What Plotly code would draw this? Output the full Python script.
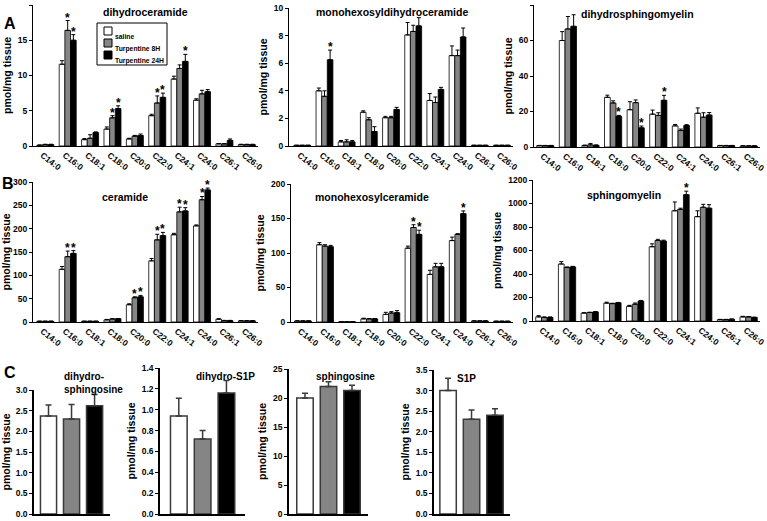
import plotly.graph_objects as go

W, H = 767, 521

CHAINS = ["C14:0", "C16:0", "C18:1", "C18:0", "C20:0",
          "C22:0", "C24:1", "C24:0", "C26:1", "C26:0"]
GROUPS = ["saline", "Turpentine 8H", "Turpentine 24H"]
COLORS = ["#ffffff", "#858585", "#000000"]

# A - dihydroceramide
dhcer_saline = [0.1, 11.6, 0.9, 2.4, 1.0, 4.3, 9.5, 6.5, 0.3, 0.2]
dhcer_8h = [0.2, 16.4, 1.1, 4.0, 1.4, 6.1, 11.0, 7.4, 0.3, 0.2]
dhcer_24h = [0.2, 15.0, 1.9, 5.3, 1.5, 6.9, 12.0, 7.7, 0.8, 0.2]
dhcer_saline_err = [0.05, 0.5, 0.15, 0.3, 0.1, 0.2, 0.4, 0.2, 0.05, 0.05]
dhcer_8h_err = [0.05, 1.4, 0.5, 0.3, 0.1, 1.0, 0.5, 0.5, 0.05, 0.05]
dhcer_24h_err = [0.05, 0.8, 0.1, 0.4, 0.2, 0.6, 1.0, 0.3, 0.2, 0.05]
dhcer_stars = [(1, 1), (1, 2), (3, 1), (3, 2), (5, 1), (5, 2), (6, 2)]

# A - monohexosyldihydroceramide
hexdhcer_saline = [0.05, 4.0, 0.3, 2.45, 2.05, 8.05, 3.3, 6.55, 0.05, 0.05]
hexdhcer_8h = [0.05, 3.6, 0.3, 1.9, 2.05, 8.3, 3.15, 6.55, 0.05, 0.05]
hexdhcer_24h = [0.05, 6.25, 0.3, 1.05, 2.65, 8.7, 4.1, 7.9, 0.05, 0.05]
hexdhcer_saline_err = [0, 0.2, 0.1, 0.1, 0.1, 0.9, 0.5, 0.7, 0, 0]
hexdhcer_8h_err = [0, 0.4, 0.15, 0.15, 0.1, 0.45, 0.4, 0.4, 0, 0]
hexdhcer_24h_err = [0, 0.7, 0.1, 0.35, 0.15, 0.6, 0.15, 0.65, 0, 0]
hexdhcer_stars = [(1, 2)]

# A - dihydrosphingomyelin
dhsm_saline = [0.8, 60, 0.8, 28, 21, 18.5, 11.9, 19, 0.8, 0.6]
dhsm_8h = [0.8, 66.5, 1.2, 24.8, 25, 17.8, 9.3, 16.8, 0.8, 0.6]
dhsm_24h = [0.8, 68, 0.9, 17.3, 10.8, 26.3, 12.1, 18, 0.8, 0.6]
dhsm_saline_err = [0.1, 5, 0.3, 1.2, 4.5, 2.3, 0.8, 3, 0.1, 0.1]
dhsm_8h_err = [0.1, 7, 0.8, 1.2, 1.5, 1.5, 0.8, 2.5, 0.1, 0.1]
dhsm_24h_err = [0.1, 6.5, 0.3, 0.5, 1.0, 2.8, 0.5, 1.4, 0.1, 0.1]
dhsm_stars = [(3, 2), (4, 2), (5, 2)]

# B - ceramide
cer_saline = [1.5, 113, 1.5, 4.5, 37, 131, 187, 206, 6, 2.5]
cer_8h = [1.5, 140, 1.5, 6.5, 52, 176, 236, 262, 3, 2.5]
cer_24h = [1.5, 147, 1.5, 7, 54, 185, 238, 283, 3, 2.5]
cer_saline_err = [0.3, 6, 0.3, 1, 2, 5, 3, 2, 1, 0.3]
cer_8h_err = [0.3, 12, 0.3, 0.5, 2, 12, 10, 7, 0.5, 0.3]
cer_24h_err = [0.3, 6, 0.3, 0.5, 3, 7, 7, 4, 0.5, 0.3]
cer_stars = [(1, 1), (1, 2), (4, 1), (4, 2), (5, 1), (5, 2),
             (6, 1), (6, 2), (7, 1), (7, 2)]

# B - monohexosylceramide
hexcer_saline = [1.5, 112, 0.3, 4.5, 11, 107, 69, 118, 1.5, 1]
hexcer_8h = [1.5, 110, 0.3, 4.5, 13, 137, 80, 127, 1.5, 1]
hexcer_24h = [1.5, 109, 0.3, 4.5, 13.5, 127, 80, 157, 1.5, 1]
hexcer_saline_err = [0.2, 3, 0, 1, 3, 3, 6, 5, 0.2, 0.2]
hexcer_8h_err = [0.2, 2, 0, 0.5, 2, 4, 5, 1, 0.2, 0.2]
hexcer_24h_err = [0.2, 2, 0, 0.5, 3, 6, 5, 4, 0.2, 0.2]
hexcer_stars = [(5, 1), (5, 2), (7, 2)]

# B - sphingomyelin
sm_saline = [35, 485, 68, 152, 125, 632, 938, 888, 12, 35]
sm_8h = [30, 455, 72, 148, 143, 685, 950, 968, 12, 35]
sm_24h = [30, 460, 77, 155, 170, 680, 1075, 960, 15, 30]
sm_saline_err = [10, 20, 2, 8, 8, 25, 75, 50, 2, 5]
sm_8h_err = [5, 5, 3, 3, 10, 10, 10, 25, 2, 3]
sm_24h_err = [5, 5, 3, 3, 5, 8, 30, 30, 2, 3]
sm_stars = [(6, 2)]

# C - sphingoid bases (saline, 8H, 24H)
dhsph_mean = [2.37, 2.30, 2.62]
dhsph_err = [0.27, 0.35, 0.27]
dhs1p_mean = [0.94, 0.72, 1.16]
dhs1p_err = [0.17, 0.08, 0.12]
sph_mean = [20.0, 22.0, 21.3]
sph_err = [0.8, 0.8, 0.9]
s1p_mean = [3.0, 2.3, 2.4]
s1p_err = [0.3, 0.23, 0.16]

FONT = "Arial, 'Liberation Sans', sans-serif"
BARGAP = 0.24
BW = (1 - BARGAP) / 3


def xdom(a, b):
    return [a / W, b / W]


def ydom(top, bottom):
    return [1 - bottom / H, 1 - top / H]


def bold(size, color="black"):
    return dict(family=FONT, size=size, color=color, weight="bold")


fig = go.Figure()
annotations = []
shapes = []

chain_panels = [
    ("dihydroceramide", [dhcer_saline, dhcer_8h, dhcer_24h],
     [dhcer_saline_err, dhcer_8h_err, dhcer_24h_err], dhcer_stars,
     [0, 20], 5, (33, 258), (5, 146), [-0.55, 9.5], (145, 12)),
    ("monohexosyldihydroceramide", [hexdhcer_saline, hexdhcer_8h, hexdhcer_24h],
     [hexdhcer_saline_err, hexdhcer_8h_err, hexdhcer_24h_err], hexdhcer_stars,
     [0, 10], 2, (289, 513), (8, 146), [-0.6, 9.5], (392, 12)),
    ("dihydrosphingomyelin", [dhsm_saline, dhsm_8h, dhsm_24h],
     [dhsm_saline_err, dhsm_8h_err, dhsm_24h_err], dhsm_stars,
     [0, 80], 20, (534, 760), (5, 147), [-0.5, 9.5], (637, 14)),
    ("ceramide", [cer_saline, cer_8h, cer_24h],
     [cer_saline_err, cer_8h_err, cer_24h_err], cer_stars,
     [0, 300], 50, (33, 258), (182, 322), [-0.55, 9.5], (125, 197)),
    ("monohexosylceramide", [hexcer_saline, hexcer_8h, hexcer_24h],
     [hexcer_saline_err, hexcer_8h_err, hexcer_24h_err], hexcer_stars,
     [0, 200], 50, (291, 513), (184, 322), [-0.54, 9.5], (372, 197)),
    ("sphingomyelin", [sm_saline, sm_8h, sm_24h],
     [sm_saline_err, sm_8h_err, sm_24h_err], sm_stars,
     [0, 1200], 200, (533, 760), (180, 321), [-0.5, 9.5], (624, 195)),
]

layout_axes = {}
k = 0
for title, means, errs, stars, yr, dt, xd, yd, xr, tpos in chain_panels:
    k += 1
    xa = "x" if k == 1 else f"x{k}"
    ya = "y" if k == 1 else f"y{k}"
    for g in range(3):
        fig.add_trace(go.Bar(
            x=CHAINS, y=means[g], name=GROUPS[g], showlegend=False,
            marker=dict(color=COLORS[g], line=dict(color="black", width=0.8)),
            error_y=dict(type="data", symmetric=False, array=errs[g],
                         arrayminus=[0] * len(errs[g]), color="black",
                         thickness=1, width=2),
            xaxis=xa, yaxis=ya, hoverinfo="skip",
        ))
    for ci, g in stars:
        annotations.append(dict(
            x=ci + (g - 1) * BW, y=means[g][ci] + errs[g][ci],
            xref=xa, yref=ya, text="*", showarrow=False,
            yanchor="bottom", yshift=-6, font=bold(12)))
    annotations.append(dict(
        x=tpos[0] / W, y=1 - tpos[1] / H, xref="paper", yref="paper",
        text=title, showarrow=False, xanchor="center", yanchor="middle",
        font=bold(10.5)))
    sfx = "" if k == 1 else str(k)
    layout_axes["xaxis" + sfx] = dict(
        domain=xdom(*xd), anchor=ya, type="category", range=xr,
        automargin=False, ticklabelshift=-3,
        showline=True, linecolor="black", linewidth=1.2, ticks="",
        tickangle=38, tickfont=bold(8.5), showgrid=False, zeroline=False)
    layout_axes["yaxis" + sfx] = dict(
        domain=ydom(*yd), anchor=xa, range=yr, dtick=dt, automargin=False,
        showline=True, linecolor="black", linewidth=1.2, ticks="outside",
        ticklen=3, tickcolor="black", tickfont=bold(8.5),
        showgrid=False, zeroline=False,
        title=dict(text="pmol/mg tissue", font=bold(10.5), standoff=4))

base_panels = [
    ("dihydro-<br>sphingosine", dhsph_mean, dhsph_err, [0, 3.0], 0.5, ".1f",
     (34, 110), (390, 514), [-0.63, 2.67], (62, 383, "left")),
    ("dihydro-S1P", dhs1p_mean, dhs1p_err, [0, 1.4], 0.2, ".1f",
     (160, 245), (368, 514), [-0.79, 2.78], (225, 376, "center")),
    ("sphingosine", sph_mean, sph_err, [0, 25], 5, "",
     (289, 368), (369, 514), [-0.68, 2.68], (345, 376, "center")),
    ("S1P", s1p_mean, s1p_err, [0, 3.5], 0.5, ".1f",
     (434, 510), (370, 514), [-0.6, 2.64], (466, 378, "center")),
]

for title, means, errs, yr, dt, fmt, xd, yd, xr, tpos in base_panels:
    k += 1
    xa, ya = f"x{k}", f"y{k}"
    fig.add_trace(go.Bar(
        x=[0, 1, 2], y=means, width=0.7, showlegend=False,
        marker=dict(color=COLORS, line=dict(color="#3a3a3a", width=1.5)),
        error_y=dict(type="data", symmetric=False, array=errs,
                     arrayminus=[0, 0, 0], color="#3a3a3a",
                     thickness=1.5, width=3),
        xaxis=xa, yaxis=ya, hoverinfo="skip",
    ))
    annotations.append(dict(
        x=tpos[0] / W, y=1 - tpos[1] / H, xref="paper", yref="paper",
        text=title, showarrow=False, xanchor=tpos[2], yanchor="middle",
        align="left", font=bold(10)))
    layout_axes[f"xaxis{k}"] = dict(
        domain=xdom(*xd), anchor=ya, range=xr, showline=True,
        automargin=False,
        linecolor="black", linewidth=1.5, ticks="", showticklabels=False,
        showgrid=False, zeroline=False)
    layout_axes[f"yaxis{k}"] = dict(
        domain=ydom(*yd), anchor=xa, range=yr, dtick=dt, tickformat=fmt,
        automargin=False,
        showline=True, linecolor="black", linewidth=1.5, ticks="outside",
        ticklen=3, tickcolor="black", tickfont=bold(8.5),
        showgrid=False, zeroline=False,
        title=dict(text="pmol/mg tissue", font=bold(10.5), standoff=4))

# legend box inside the dihydroceramide panel
shapes.append(dict(type="rect", xref="paper", yref="paper",
                   x0=97 / W, x1=167 / W, y0=1 - 65 / H, y1=1 - 23 / H,
                   line=dict(color="black", width=1), fillcolor="white"))
for g, name in enumerate(GROUPS):
    cy = 31 + g * 12
    shapes.append(dict(type="rect", xref="paper", yref="paper",
                       x0=104 / W, x1=112 / W,
                       y0=1 - (cy + 4) / H, y1=1 - (cy - 4) / H,
                       line=dict(color="black", width=1),
                       fillcolor=COLORS[g]))
    annotations.append(dict(x=113 / W, y=1 - cy / H, xref="paper",
                            yref="paper", text=name, showarrow=False,
                            xanchor="left", font=bold(6.8)))

for letter, lx, ly in [("A", 2, 13), ("B", 0, 183), ("C", 2, 383)]:
    annotations.append(dict(x=lx / W, y=1 - ly / H, xref="paper",
                            yref="paper", text=letter, showarrow=False,
                            xanchor="left", font=bold(16)))

fig.update_layout(
    width=W, height=H, margin=dict(l=0, r=0, t=0, b=0, autoexpand=False),
    paper_bgcolor="white", plot_bgcolor="white",
    barmode="group", bargap=BARGAP, bargroupgap=0,
    showlegend=False, annotations=annotations, shapes=shapes,
    font=dict(family=FONT, color="black"),
    **layout_axes,
)

fig.write_html("out.html", config={"displayModeBar": False},
               post_script="document.body.style.margin='0';"
                           "document.body.style.overflow='hidden';")
